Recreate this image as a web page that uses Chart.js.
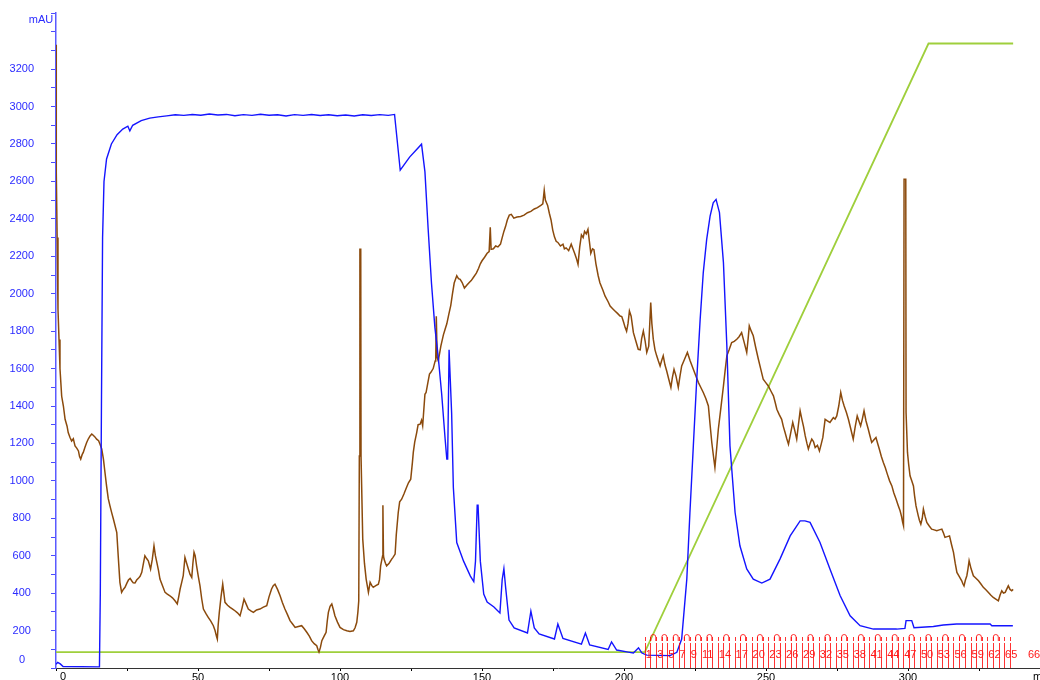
<!DOCTYPE html>
<html>
<head>
<meta charset="utf-8">
<script src="https://cdn.jsdelivr.net/npm/chart.js@4/dist/chart.umd.min.js"></script>
<style>
  html, body { margin: 0; padding: 0; background: #fff; overflow: hidden; }
  #wrap { position: absolute; left: 0; top: 0; width: 1060px; height: 692px; }
</style>
</head>
<body>
<div id="wrap"><canvas id="chrom"></canvas></div>
<script>
// UV trace (blue), ml / mAU
const blueVol = [0, 0.6, 1.5, 2.5, 15.3, 15.6, 16.0, 16.4, 16.9, 17.8, 19.5, 21.5, 23.5, 25.3, 26.0, 27.0,
  30, 33, 36, 39, 42, 45, 48, 51, 54, 57, 60, 63, 66, 69, 72, 75, 78, 81, 84, 87, 90, 93, 96, 99, 102,
  105, 108, 111, 114, 117, 119.2, 121.2, 124.5, 128.7, 129.9, 131.0, 132.2, 133.4, 134.6, 135.8, 137.0,
  137.6, 137.9, 138.4, 138.7, 139.3, 139.9, 141.1, 143.5, 145.9, 147.1, 147.7, 148.3, 148.6, 149.4,
  150.6, 151.8, 154.2, 156.3, 157.1, 157.7, 158.3, 159.5, 161.3, 166.0, 167.2, 168.4, 170.1, 175.5,
  176.7, 178.5, 185.0, 186.4, 187.9, 194.4, 195.6, 197.4, 201.5, 203.3, 205.1, 206.3, 208, 216.2,
  218.6, 220.3, 222.1, 223.2, 224.4, 225.6, 226.8, 227.9, 229.1, 230.3, 231.4, 232.4, 233.6, 235.0,
  236.2, 237.3, 239.1, 240.8, 243.2, 245.5, 248.5, 251.4, 254.9, 258.5, 262.0, 263.7, 265.5, 269.0,
  272.5, 276.1, 279.6, 283.1, 287.8, 296.0, 298.9, 299.3, 301.3, 302.1, 308.9, 312.4, 317.1, 328.9,
  329.5, 336.9];
const blueAbs = [20, 30, 22, 8, 6, 400, 1400, 2300, 2600, 2720, 2800, 2850, 2880, 2895, 2870, 2900,
  2925, 2938, 2945, 2950, 2956, 2953, 2958, 2954, 2960, 2955, 2958, 2951, 2957, 2953, 2959, 2954, 2956,
  2950, 2957, 2953, 2958, 2952, 2956, 2951, 2955, 2950, 2956, 2952, 2957, 2953, 2958, 2660, 2730, 2799,
  2651, 2354, 2057, 1820, 1660, 1463, 1225, 1116, 1116, 1700, 1700, 1363, 966, 670, 571, 491, 462, 571,
  870, 870, 571, 395, 352, 326, 294, 472, 531, 432, 256, 214, 187, 304, 214, 182, 155, 235, 158, 128,
  187, 123, 99, 139, 96, 85, 80, 108, 80, 69, 66, 84, 155, 475, 831, 1187, 1543, 1863, 2113, 2290, 2415,
  2486, 2504, 2433, 2166, 1721, 1187, 831, 653, 529, 475, 454, 475, 582, 706, 786, 786, 778, 671, 529,
  386, 279, 226, 208, 208, 212, 253, 253, 215, 222, 230, 235, 235, 226, 226];

// second trace (brown)
const brownVol = [0, 0.1, 0.4, 0.7, 1.06, 1.4, 2.0, 2.6, 3.2, 3.9, 4.3, 4.9, 5.5, 6.1, 6.7, 7.3, 7.9,
  8.3, 8.7, 9.2, 9.6, 10.2, 10.8, 11.4, 12.0, 12.6, 13.1, 13.7, 14.3, 15.0, 15.5, 16.1, 16.7, 17.2, 17.8,
  18.4, 19.0, 19.6, 20.2, 20.8, 21.4, 21.9, 22.5, 23.1, 23.7, 24.3, 25.0, 25.5, 26.1, 26.7, 27.2, 27.8,
  28.4, 29.0, 29.6, 30.2, 30.8, 31.3, 31.9, 32.5, 33.3, 33.9, 34.5, 35.0, 35.5, 36.1, 36.6, 37.5, 38.4,
  39.2, 40.1, 41.0, 41.9, 42.7, 43.2, 43.7, 44.3, 44.8, 45.4, 46.0, 46.6, 47.2, 47.8, 48.2, 48.6, 49.0,
  49.5, 50.1, 50.7, 51.3, 51.9, 52.8, 53.6, 54.5, 55.4, 56.0, 56.5, 56.8, 57.1, 57.5, 58.1, 58.7, 59.1,
  59.5, 60.4, 61.3, 62.2, 63.0, 63.9, 64.8, 65.5, 66.2, 67.0, 67.7, 68.6, 69.5, 70.6, 71.8, 73.0, 74.2,
  75.0, 75.9, 76.5, 77.1, 78.0, 78.9, 79.7, 80.6, 81.5, 82.4, 83.3, 84.2, 85.0, 86.5, 87.4, 88.3, 89.2,
  90.0, 90.9, 91.8, 92.2, 92.6, 93.1, 93.6, 94.4, 95.1, 95.5, 95.9, 96.5, 97.1, 97.7, 98.2, 99.1, 100.0,
  101.2, 102.4, 103.5, 104.7, 105.3, 105.9, 106.3, 106.6, 106.8, 107.0, 107.3, 107.4, 108.0, 108.6,
  109.2, 110.0, 110.6, 111.2, 111.7, 112.6, 113.5, 113.9, 114.3, 115.0, 115.1, 115.3, 115.5, 116.0,
  116.4, 117.3, 118.2, 118.6, 119.4, 119.8, 120.5, 121.0, 121.7, 122.5, 123.3, 124.1, 124.9, 125.5,
  125.8, 126.3, 127.0, 127.5, 128.2, 128.7, 129.1, 129.9, 130.3, 131.0, 131.5, 132.0, 132.8, 133.5,
  133.7, 133.9, 134.2, 134.6, 135.5, 136.4, 137.0, 137.6, 138.3, 139.0, 139.6, 140.2, 141.1, 141.7,
  142.3, 143.0, 143.8, 144.7, 145.5, 146.2, 147.0, 148.0, 148.8, 149.4, 150.0, 150.9, 151.8, 152.5,
  152.9, 153.2, 154.0, 154.8, 155.6, 156.5, 157.1, 157.7, 158.3, 158.9, 159.6, 160.3, 161.2, 162.3,
  163.6, 164.8, 166.0, 167.2, 168.4, 169.5, 170.7, 171.4, 171.9, 172.3, 173.1, 173.7, 174.3, 174.9,
  175.5, 176.1, 176.7, 177.6, 178.5, 179.0, 179.6, 180.5, 181.4, 182.0, 182.6, 183.2, 183.8, 184.4,
  185.0, 185.6, 186.1, 186.7, 187.3, 187.8, 188.3, 188.9, 189.4, 190.1, 190.9, 191.5, 192.6, 193.3,
  194.4, 195.1, 196.0, 196.8, 197.7, 198.6, 199.2, 199.8, 200.4, 200.9, 201.4, 201.9, 202.5, 203.3,
  204.1, 205.0, 205.7, 206.2, 206.8, 207.4, 208.0, 208.7, 209.4, 209.8, 210.3, 210.9, 211.5, 212.1,
  212.7, 213.2, 213.8, 214.4, 215.0, 215.8, 216.5, 217.0, 217.6, 218.3, 219.1, 219.7, 220.3, 221.3,
  222.3, 223.3, 224.4, 225.3, 226.2, 227.0, 227.9, 228.8, 229.7, 230.3, 230.9, 231.5, 232.0, 232.6,
  233.2, 234.1, 235.0, 235.6, 236.2, 237.0, 237.9, 238.8, 239.7, 240.5, 241.4, 242.3, 243.2, 243.7,
  244.1, 244.8, 245.5, 246.4, 247.3, 248.1, 249.0, 249.9, 250.8, 251.7, 252.6, 253.2, 253.8, 254.6,
  255.5, 256.1, 256.7, 257.3, 257.9, 258.6, 259.4, 260.1, 260.8, 261.4, 262.0, 262.6, 263.2, 263.8,
  264.4, 264.9, 265.5, 266.1, 266.7, 267.3, 268.1, 268.8, 269.4, 270.0, 270.8, 271.6, 272.5, 273.1,
  273.7, 274.3, 274.9, 275.6, 276.3, 276.9, 277.5, 278.3, 279.0, 279.8, 280.7, 281.4, 282.1, 282.7,
  283.3, 283.9, 284.5, 285.2, 286.0, 286.6, 287.2, 288.0, 288.7, 289.3, 289.9, 290.6, 291.3, 292.0,
  292.7, 293.5, 294.3, 295.0, 295.8, 296.5, 297.2, 297.7, 298.1, 298.4, 298.6, 299.2, 299.3, 299.8,
  300.2, 300.7, 301.3, 301.9, 302.3, 302.8, 303.2, 303.6, 304.0, 304.5, 305.0, 305.4, 306.0, 306.6,
  307.4, 308.3, 309.2, 310.1, 311.0, 311.9, 312.5, 313.0, 313.8, 314.6, 315.3, 316.0, 316.6, 317.2,
  318.0, 318.9, 319.3, 319.7, 320.2, 320.7, 321.1, 321.5, 322.2, 323.0, 323.9, 324.8, 325.6, 326.5,
  327.4, 328.3, 329.1, 330.0, 330.9, 331.8, 332.4, 333.0, 333.6, 334.2, 334.7, 335.3, 335.9, 336.5, 337.0];
const brownAbs = [3330, 2650, 2300, 1917, 1756, 1600, 1452, 1400, 1329, 1292, 1258, 1233, 1213, 1225,
  1187, 1175, 1160, 1130, 1116, 1140, 1152, 1180, 1205, 1225, 1240, 1250, 1244, 1235, 1223, 1215, 1196,
  1170, 1116, 1050, 973, 905, 866, 830, 796, 760, 724, 600, 458, 404, 420, 431, 455, 470, 479, 465, 455,
  454, 470, 479, 490, 511, 560, 600, 585, 573, 529, 580, 653, 600, 564, 520, 475, 440, 404, 395, 386,
  375, 359, 342, 380, 422, 460, 493, 591, 560, 529, 500, 484, 560, 618, 600, 546, 490, 439, 370, 315,
  290, 271, 250, 226, 200, 170, 155, 230, 297, 380, 448, 400, 351, 335, 324, 315, 306, 295, 279, 320,
  368, 340, 315, 305, 297, 310, 315, 325, 333, 380, 422, 440, 448, 420, 386, 350, 315, 285, 253, 235,
  217, 220, 226, 210, 191, 170, 146, 130, 119, 100, 85, 110, 146, 170, 191, 250, 297, 330, 342, 310,
  279, 245, 217, 205, 199, 195, 199, 215, 244, 300, 359, 1133, 2237, 2237, 1133, 689, 560, 475, 404,
  458, 440, 431, 440, 448, 472, 546, 600, 870, 600, 582, 560, 546, 560, 582, 590, 609, 710, 831, 888,
  902, 930, 960, 990, 1009, 1100, 1152, 1207, 1258, 1300, 1303, 1324, 1294, 1463, 1472, 1530, 1571,
  1580, 1600, 1641, 1650, 1880, 1660, 1641, 1720, 1780, 1810, 1839, 1890, 1938, 2000, 2057, 2096, 2080,
  2077, 2060, 2030, 2046, 2060, 2070, 2088, 2110, 2136, 2160, 2176, 2195, 2216, 2225, 2355, 2237, 2240,
  2255, 2250, 2265, 2300, 2333, 2360, 2394, 2420, 2424, 2404, 2410, 2413, 2420, 2433, 2440, 2453, 2460,
  2472, 2480, 2552, 2500, 2472, 2430, 2394, 2340, 2304, 2280, 2274, 2255, 2265, 2240, 2245, 2230, 2265,
  2240, 2216, 2190, 2157, 2250, 2314, 2300, 2333, 2320, 2344, 2280, 2216, 2240, 2235, 2160, 2096, 2059,
  2017, 1988, 1957, 1934, 1920, 1908, 1895, 1881, 1878, 1850, 1819, 1799, 1840, 1908, 1880, 1792, 1750,
  1703, 1700, 1760, 1801, 1750, 1686, 1720, 1953, 1840, 1757, 1700, 1668, 1640, 1614, 1640, 1668, 1620,
  1588, 1540, 1499, 1550, 1596, 1560, 1499, 1560, 1614, 1650, 1686, 1640, 1596, 1560, 1525, 1500, 1472,
  1440, 1400, 1300, 1205, 1130, 1072, 1170, 1276, 1390, 1507, 1590, 1668, 1700, 1739, 1745, 1757, 1770,
  1792, 1740, 1686, 1760, 1828, 1800, 1775, 1710, 1650, 1600, 1543, 1525, 1507, 1480, 1454, 1420, 1383,
  1355, 1329, 1290, 1258, 1225, 1196, 1250, 1312, 1270, 1223, 1300, 1374, 1330, 1290, 1240, 1200, 1170,
  1200, 1223, 1210, 1178, 1190, 1160, 1195, 1232, 1329, 1320, 1312, 1325, 1338, 1330, 1347, 1400, 1472,
  1430, 1400, 1365, 1329, 1280, 1223, 1290, 1347, 1320, 1294, 1330, 1374, 1320, 1276, 1240, 1205, 1220,
  1232, 1200, 1169, 1130, 1098, 1070, 1036, 1000, 973, 935, 902, 870, 840, 810, 778, 760, 2611, 2611,
  1365, 1152, 1090, 1027, 1000, 973, 920, 866, 840, 813, 790, 769, 800, 849, 810, 778, 760, 742, 738,
  733, 738, 742, 720, 698, 702, 706, 660, 618, 560, 511, 490, 466, 450, 439, 470, 493, 530, 573, 530,
  493, 480, 466, 450, 431, 418, 404, 390, 377, 368, 359, 390, 413, 400, 404, 420, 439, 420, 413, 420];

// gradient (green)
const gradVol = [0, 207.3, 307.2, 337.0];
const gradConc = [85, 85, 3337, 3337];

// fractions: start volume of fractions 1..65, end of the last one, labelled numbers
const fracStart = [207.3, 209.3, 211.3, 213.2, 215.2, 217.2, 219.2, 221.1, 223.1, 225.1, 227.1, 229.1,
  231.0, 233.0, 235.0, 237.0, 238.9, 240.9, 242.9, 244.9, 246.9, 248.8, 250.8, 252.8, 254.8, 256.7,
  258.7, 260.7, 262.7, 264.6, 266.6, 268.6, 270.6, 272.6, 274.5, 276.5, 278.5, 280.5, 282.4, 284.4,
  286.4, 288.4, 290.3, 292.3, 294.3, 296.3, 298.3, 300.2, 302.2, 304.2, 306.2, 308.1, 310.1, 312.1,
  314.1, 316.0, 318.0, 320.0, 322.0, 324.0, 325.9, 327.9, 329.9, 331.9, 333.8];
const fracEnd = 335.9;
const fracLabels = [1, 3, 5, 7, 9, 11, 14, 17, 20, 23, 26, 29, 32, 35, 38, 41, 44, 47, 50, 53, 56, 59, 62, 65];
const lastFrac = { label: "66", vol: 342.2 };

const xLabelVals = [0, 50, 100, 150, 200, 250, 300];
const FONT = "'Liberation Sans', Arial, sans-serif";

function pts(xs, ys) { return xs.map((x, i) => ({ x: x, y: ys[i] })); }

// fraction marks, unit texts
const extras = {
  id: "extras",
  afterDatasetsDraw(chart) {
    const { ctx, scales: { x, y } } = chart;
    const base = y.bottom;
    ctx.save();
    ctx.strokeStyle = "rgba(255,0,0,0.8)";
    ctx.lineWidth = 1;
    const all = fracStart.concat([fracEnd]);
    all.forEach(v => {
      const px = Math.round(x.getPixelForValue(v)) + 0.5;
      ctx.beginPath();
      ctx.moveTo(px, base - 25);
      ctx.lineTo(px, base);
      ctx.stroke();
      ctx.beginPath();
      ctx.moveTo(px, base - 31);
      ctx.lineTo(px, base - 27);
      ctx.stroke();
    });
    // arches over the fraction after each labelled one
    fracLabels.forEach(n => {
      if (n >= fracStart.length) return;
      const a = fracStart[n], b = (fracStart[n + 1] !== undefined ? fracStart[n + 1] : fracEnd);
      const cx = x.getPixelForValue((a + b) / 2);
      ctx.beginPath();
      ctx.moveTo(cx - 2.5, base - 27);
      ctx.lineTo(cx - 2.5, base - 31);
      ctx.arc(cx, base - 31, 2.5, Math.PI, 0);
      ctx.lineTo(cx + 2.5, base - 27);
      ctx.stroke();
    });
    ctx.fillStyle = "#ff1a1a";
    ctx.font = "11px " + FONT;
    ctx.textBaseline = "middle";
    ctx.textAlign = "left";
    fracLabels.forEach(n => {
      const px = x.getPixelForValue(fracStart[n - 1]);
      ctx.fillText(String(n), px + 1, base - 13);
    });
    ctx.fillText(lastFrac.label, x.getPixelForValue(lastFrac.vol), base - 13);
    ctx.restore();
  },
  afterDraw(chart) {
    const { ctx, scales: { x, y } } = chart;
    ctx.save();
    ctx.font = "11px " + FONT;
    ctx.textBaseline = "middle";
    ctx.textAlign = "center";
    ctx.fillStyle = "#2b2bff";
    ctx.fillText("mAU", 41, 20);
    ctx.fillText("0", 22, y.getPixelForValue(0) - 8);
    ctx.fillStyle = "#000";
    ctx.fillText("0", x.getPixelForValue(0) + 7, 677);
    ctx.textAlign = "left";
    ctx.fillText("ml", x.getPixelForValue(344), 677);
    ctx.restore();
  }
};

new Chart(document.getElementById("chrom"), {
  type: "line",
  data: {
    datasets: [
      { data: pts(blueVol, blueAbs), borderColor: "#1414ff", borderWidth: 1.4 },
      { data: pts(brownVol, brownAbs), borderColor: "#8b4a0c", borderWidth: 1.5 },
      { data: pts(gradVol, gradConc), borderColor: "#9fcf3c", borderWidth: 1.8 }
    ]
  },
  options: {
    responsive: true,
    maintainAspectRatio: false,
    animation: false,
    events: [],
    elements: { point: { radius: 0 }, line: { tension: 0, fill: false } },
    layout: { padding: { top: 13, left: 0, right: 0, bottom: 0 }, autoPadding: false },
    plugins: { legend: { display: false }, tooltip: { enabled: false } },
    scales: {
      x: {
        type: "linear", min: 0, max: 353.5,
        grid: { drawOnChartArea: false, tickLength: 3, color: "#000" },
        border: { color: "#333", width: 1 },
        ticks: {
          stepSize: 25, autoSkip: false, maxRotation: 0, padding: 0,
          color: "#000", font: { family: FONT, size: 11 },
          callback: v => (xLabelVals.includes(v) && v !== 0 ? String(v) : "")
        },
        afterFit: s => { s.height = 24; s.paddingLeft = 0; s.paddingRight = 0; }
      },
      y: {
        min: 0, max: 3500,
        grid: { drawOnChartArea: false, tickLength: 5, color: "#4a4aff" },
        border: { color: "#5a5aff", width: 1.5 },
        ticks: {
          stepSize: 100, autoSkip: false, maxTicksLimit: 100, crossAlign: "center", padding: 17,
          color: "#2b2bff", font: { family: FONT, size: 11 },
          callback: v => (v % 200 === 0 && v > 0 && v <= 3200 ? String(v) : "")
        },
        afterFit: s => { s.width = 56; s.paddingTop = 0; s.paddingBottom = 0; }
      }
    }
  },
  plugins: [extras]
});
</script>
</body>
</html>
